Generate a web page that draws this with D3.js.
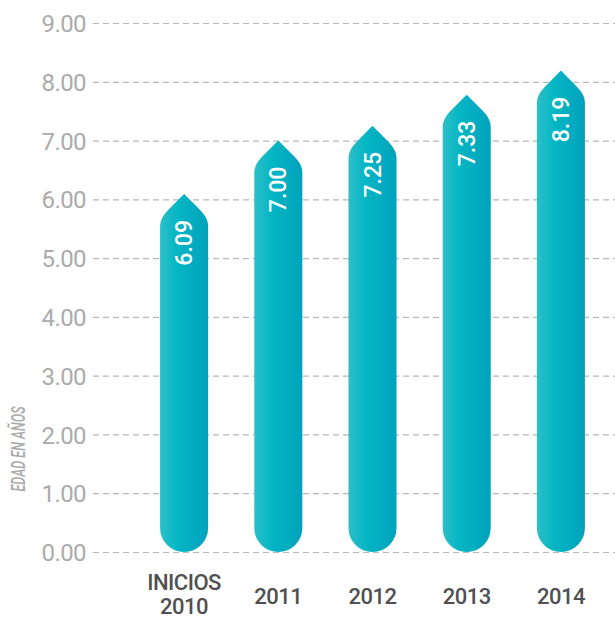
<!DOCTYPE html>
<html><head><meta charset="utf-8">
<script src="https://cdn.jsdelivr.net/npm/d3@7/dist/d3.min.js"></script>
<style>body{margin:0;background:#fff}svg{display:block}</style>
</head><body>
<script>
const categories = [["INICIOS","2010"],["2011"],["2012"],["2013"],["2014"]];
const labelValues = [6.09, 7.00, 7.25, 7.33, 8.19];
// bar heights as drawn in the picture (2013 is drawn taller than its label)
const barHeights = [6.09, 7.00, 7.25, 7.78, 8.19];
const yTicks = [0,1,2,3,4,5,6,7,8,9];
const axisTitle = "EDAD EN AÑOS";

const W = 615, H = 619;
const svg = d3.select("body").append("svg").attr("width", W).attr("height", H);
const y = d3.scaleLinear().domain([0, 9]).range([552, 23]);
const x = d3.scaleBand().domain(d3.range(categories.length)).range([137, 608]).paddingInner(0.49).paddingOuter(0.245);

const defs = svg.append("defs");
const g = defs.append("linearGradient").attr("id","bg").attr("x1","0").attr("x2","1").attr("y1","0").attr("y2","0");
g.append("stop").attr("offset","0").attr("stop-color","#2dbfc8");
g.append("stop").attr("offset","0.35").attr("stop-color","#05b6c4");
g.append("stop").attr("offset","1").attr("stop-color","#00a2bc");

// grid
const axis = d3.axisLeft(y).tickValues(yTicks).tickFormat(d3.format(".2f")).tickSize(0).tickPadding(0);
const ga = svg.append("g").attr("transform","translate(86,0)").call(axis);
ga.select(".domain").remove();
ga.selectAll(".tick text").attr("x", 0).attr("dy","0.36em")
  .attr("font-family","Roboto, sans-serif").attr("font-size", 24).attr("fill","#ababab")
  .attr("letter-spacing", -0.6).attr("text-anchor","end");
ga.selectAll(".tick").append("line").attr("x1", 7).attr("x2", W - 86)
  .attr("stroke","#b8b8b8").attr("stroke-width",1.2).attr("stroke-dasharray","6,4");

// bars
const w = x.bandwidth(), r = w/2;
function barPath(cx, ty, y0){
  return `M${cx},${ty} L${cx+r-8},${ty+r-8} Q${cx+r},${ty+r} ${cx+r},${ty+r+8} L${cx+r},${y0-r} A${r},${r} 0 0 1 ${cx-r},${y0-r} L${cx-r},${ty+r+8} Q${cx-r},${ty+r} ${cx-r+8},${ty+r-8} Z`;
}
const bars = svg.append("g").selectAll("g").data(barHeights).join("g");
bars.append("path").attr("d",(d,i)=>barPath(x(i)+w/2, y(d), y(0))).attr("fill","url(#bg)");
bars.append("text").attr("transform",(d,i)=>`translate(${x(i)+w/2+8},${y(d)+26}) rotate(-90)`)
  .attr("text-anchor","end").attr("font-family","Roboto, sans-serif").attr("font-size",23)
  .attr("font-weight",500).attr("fill","#fff").text((d,i)=>d3.format(".2f")(labelValues[i]));

// x labels
const xl = svg.append("g").selectAll("text").data(categories).join("text")
  .attr("text-anchor","middle").attr("font-family","Roboto, sans-serif").attr("font-size",22)
  .attr("font-weight",500).attr("fill","#505050").attr("letter-spacing",-0.5);
xl.each(function(d,i){
  const t = d3.select(this), cx = x(i)+w/2;
  if (d.length === 2){
    t.append("tspan").attr("x",cx).attr("y",590).text(d[0]);
    t.append("tspan").attr("x",cx).attr("y",614).text(d[1]);
  } else {
    t.append("tspan").attr("x",cx).attr("y",604).text(d[0]);
  }
});

// axis title
svg.append("text").attr("transform","translate(25,449) rotate(-90) scale(0.6,1)").attr("text-anchor","middle")
  .attr("font-family","Roboto, sans-serif").attr("font-style","italic").attr("font-weight",500)
  .attr("font-size",21).attr("fill","#aaaaaa")
  .text(axisTitle);
</script>
</body></html>
